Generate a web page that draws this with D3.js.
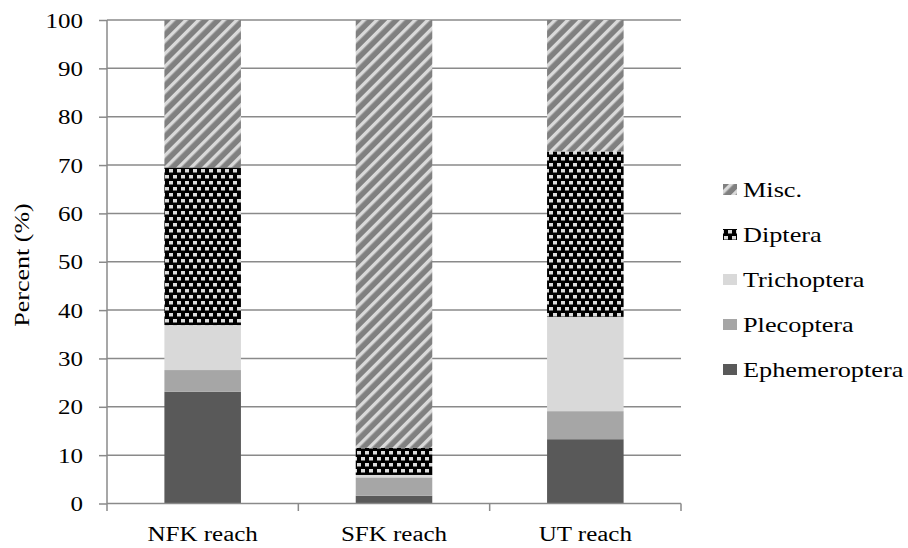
<!DOCTYPE html>
<html><head><meta charset="utf-8">
<script src="https://cdn.jsdelivr.net/npm/d3@7"></script>
<style>body{margin:0;background:#fff}svg{display:block}</style>
</head><body><svg id="c" width="908" height="548"></svg>
<script>
const categories = ["NFK reach", "SFK reach", "UT reach"];
const seriesNames = ["Ephemeroptera", "Plecoptera", "Trichoptera", "Diptera", "Misc."];
const ephemeroptera = [23.1, 1.6, 13.3];
const plecoptera = [4.5, 3.8, 5.8];
const trichoptera = [9.3, 0.5, 19.5];
const diptera = [32.6, 5.6, 34.2];
const misc = [30.5, 88.5, 27.2];
const yTicks = [0, 10, 20, 30, 40, 50, 60, 70, 80, 90, 100];
const yTitle = "Percent (%)";

const seriesValues = [ephemeroptera, plecoptera, trichoptera, diptera, misc];
const fills = ["#595959", "#a6a6a6", "#d9d9d9", "url(#pDip)", "url(#pMisc)"];
const FONT = "Liberation Serif";
const SX = 1.25;

const svg = d3.select("#c");
const defs = svg.append("defs");
const pm = defs.append("pattern").attr("id", "pMisc").attr("patternUnits", "userSpaceOnUse")
  .attr("width", 9).attr("height", 9).attr("patternTransform", "rotate(45)");
pm.append("rect").attr("width", 9).attr("height", 9).attr("fill", "#808080");
pm.append("rect").attr("width", 3.4).attr("height", 9).attr("fill", "#dadada");
const pd = defs.append("pattern").attr("id", "pDip").attr("patternUnits", "userSpaceOnUse")
  .attr("width", 8).attr("height", 12);
pd.append("rect").attr("width", 8).attr("height", 12).attr("fill", "#000");
pd.append("rect").attr("x", 1).attr("y", 1).attr("width", 4).attr("height", 3.5).attr("fill", "#dcdcdc");
pd.append("rect").attr("x", 5).attr("y", 7).attr("width", 4).attr("height", 3.5).attr("fill", "#dcdcdc");
pd.append("rect").attr("x", -3).attr("y", 7).attr("width", 4).attr("height", 3.5).attr("fill", "#dcdcdc");

const x = d3.scaleBand().domain(categories).range([107, 681]).paddingInner(0.6).paddingOuter(0.3);
const xAxisScale = d3.scaleBand().domain(categories).range([107, 681]);
const y = d3.scaleLinear().domain([0, 100]).range([503.5, 20]);
const gridColor = "#8a8a8a";

svg.append("g").selectAll("line").data(yTicks.filter(d => d > 0)).join("line")
  .attr("x1", 107).attr("x2", 681).attr("y1", d => y(d)).attr("y2", d => y(d))
  .attr("stroke", gridColor).attr("stroke-width", 1.5);

const stacked = categories.map((c, i) => {
  let acc = 0;
  return seriesValues.map((s, k) => { const y0 = acc; acc += s[i]; return {c, k, y0, y1: acc}; });
}).flat();
svg.append("g").selectAll("rect").data(stacked).join("rect")
  .attr("x", d => x(d.c)).attr("width", x.bandwidth())
  .attr("y", d => y(d.y1)).attr("height", d => y(d.y0) - y(d.y1))
  .attr("fill", d => fills[d.k]);

const ya = svg.append("g").attr("transform", "translate(107,0)")
  .call(d3.axisLeft(y).tickValues(yTicks).tickSize(8).tickPadding(0).tickFormat(d3.format("d")));
ya.attr("font-family", FONT).attr("font-size", 20);
ya.select(".domain").attr("stroke", gridColor).attr("stroke-width", 1.5).attr("d", "M0,20V503.5");
ya.selectAll(".tick line").attr("stroke", gridColor).attr("stroke-width", 1.5);
ya.selectAll(".tick text").attr("x", 0).attr("dy", "0.35em")
  .attr("font-family", FONT).attr("fill", "#000")
  .attr("text-anchor", "end").attr("transform", `translate(-24,0) scale(${SX},1)`);

const xa = svg.append("g").attr("transform", "translate(0,503.5)")
  .call(d3.axisBottom(xAxisScale).tickSize(0).tickPadding(0));
xa.attr("font-family", FONT).attr("font-size", 20);
xa.select(".domain").attr("stroke", gridColor).attr("stroke-width", 1.5).attr("d", "M107,0H681");
xa.selectAll(".tick line").remove();
xa.selectAll(".tick text").attr("y", 0).attr("dy", 0).attr("fill", "#000")
  .attr("font-family", FONT)
  .attr("transform", `translate(0,37) scale(${SX},1)`);
const bounds = [0, 1, 2, 3].map(i => 107 + i * xAxisScale.step());
svg.append("g").selectAll("line").data(bounds).join("line")
  .attr("x1", d => d).attr("x2", d => d).attr("y1", 503.5).attr("y2", 511)
  .attr("stroke", gridColor).attr("stroke-width", 1.5);

svg.append("text").attr("transform", `translate(29,265) rotate(-90) scale(1.3,1)`)
  .attr("text-anchor", "middle").attr("font-family", FONT).attr("font-size", 20).text(yTitle);

const legOrder = [4, 3, 2, 1, 0];
const lg = svg.append("g").attr("font-family", FONT).attr("font-size", 21)
  .selectAll("g").data(legOrder).join("g")
  .attr("transform", (d, i) => `translate(723,${190 + i * 45})`);
lg.append("rect").attr("x", 0).attr("y", -6).attr("width", 14).attr("height", 11).attr("fill", d => fills[d]);
lg.append("text").attr("dy", "0.35em").attr("font-family", FONT)
  .attr("transform", `translate(20,0) scale(${SX},1)`).text(d => seriesNames[d]);
</script></body></html>
